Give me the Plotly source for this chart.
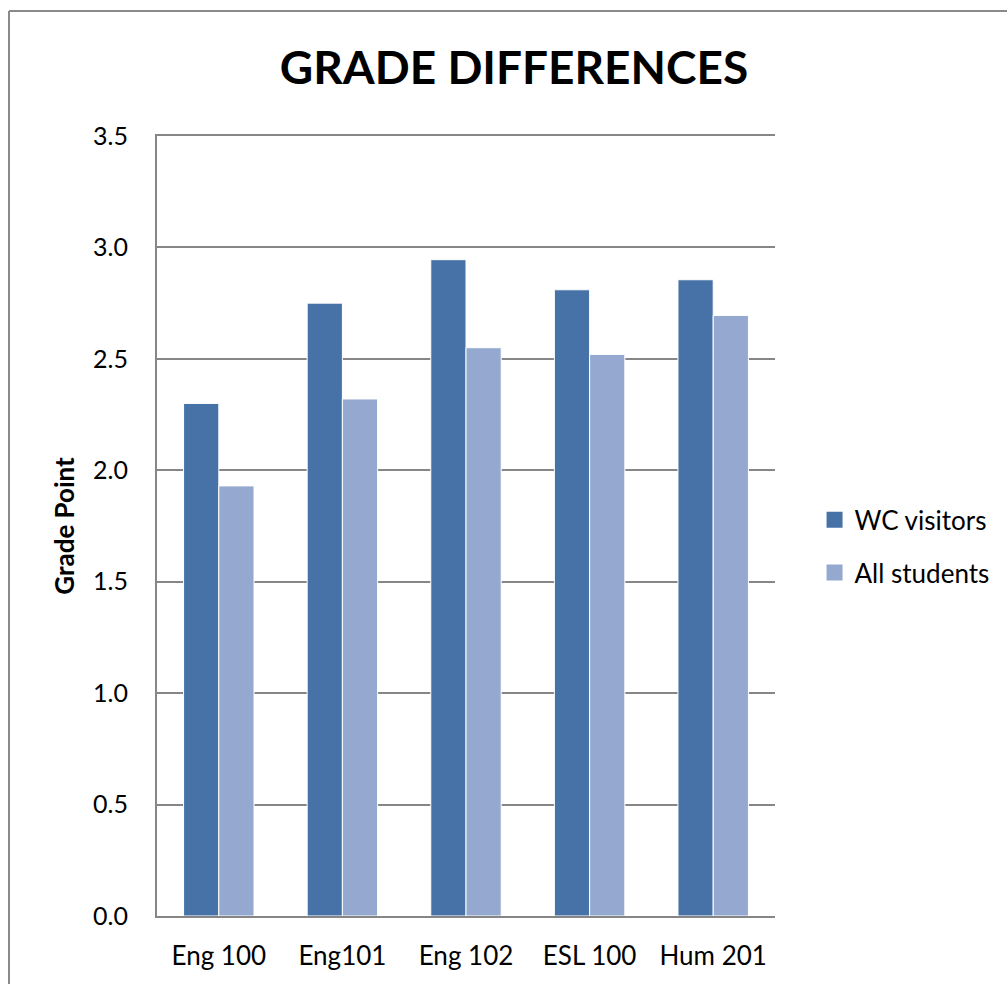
import plotly.graph_objects as go

courses = ["Eng 100", "Eng101", "Eng 102", "ESL 100", "Hum 201"]
wc_visitors = [2.30, 2.75, 2.945, 2.81, 2.855]
all_students = [1.93, 2.32, 2.55, 2.52, 2.695]
y_ticks = [0.0, 0.5, 1.0, 1.5, 2.0, 2.5, 3.0, 3.5]
y_tick_text = ["0.0", "0.5", "1.0", "1.5", "2.0", "2.5", "3.0", "3.5"]

FONT = "Lato"
GRID = "#868686"
WC_COLOR = "#4672A8"
ALL_COLOR = "#95A9D0"

fig = go.Figure()
fig.add_trace(go.Bar(
    name="WC visitors", x=courses, y=wc_visitors, showlegend=False,
    marker=dict(color=WC_COLOR, line=dict(color="white", width=1)),
))
fig.add_trace(go.Bar(
    name="All students", x=courses, y=all_students, showlegend=False,
    marker=dict(color=ALL_COLOR, line=dict(color="white", width=1)),
))

# legend entries with larger square swatches
for name, color in [("WC visitors", WC_COLOR), ("All students", ALL_COLOR)]:
    fig.add_trace(go.Scatter(
        x=[None], y=[None], mode="markers", name=name, legendgroup=name,
        marker=dict(symbol="square", size=16, color=color),
    ))

fig.update_layout(
    width=1007, height=984,
    margin=dict(l=157, r=232, t=136, b=68, autoexpand=False),
    paper_bgcolor="white", plot_bgcolor="white",
    barmode="group", bargap=0.43, bargroupgap=0,
    font=dict(family=FONT, color="black", size=25),
    title=dict(
        text="<b>GRADE DIFFERENCES</b>",
        font=dict(family=FONT, size=46, color="black"),
        x=514 / 1007, xanchor="center",
        y=1 - 68 / 984, yanchor="middle",
    ),
    legend=dict(
        x=1.064, xanchor="left", y=0.474, yanchor="middle",
        font=dict(family=FONT, size=26),
        traceorder="grouped", tracegroupgap=16, itemwidth=30,
        bgcolor="rgba(0,0,0,0)",
    ),
    showlegend=True,
)

fig.update_yaxes(
    range=[0, 3.5], tickvals=y_ticks, ticktext=y_tick_text,
    showgrid=True, gridcolor=GRID, gridwidth=2,
    showline=True, linecolor=GRID, linewidth=2,
    ticks="", ticklabelstandoff=22,
    tickfont=dict(family=FONT, size=25),
    title=dict(text="<b>Grade Point</b>", font=dict(family=FONT, size=26), standoff=11),
    zeroline=False,
)
fig.update_xaxes(
    showline=True, linecolor=GRID, linewidth=2, mirror=True,
    ticks="", tickfont=dict(family=FONT, size=26),
    ticklabelstandoff=16,
)

# chart frame
fx = (9 - 157) / 618
fy = (916 - 11) / 780
fig.add_shape(type="line", xref="paper", yref="paper",
              x0=fx, x1=fx, y0=fy, y1=-0.2,
              line=dict(color="#8a8a8a", width=2))
fig.add_shape(type="line", xref="paper", yref="paper",
              x0=fx, x1=1.5, y0=fy, y1=fy,
              line=dict(color="#8a8a8a", width=2))

fig.write_html("out.html")
